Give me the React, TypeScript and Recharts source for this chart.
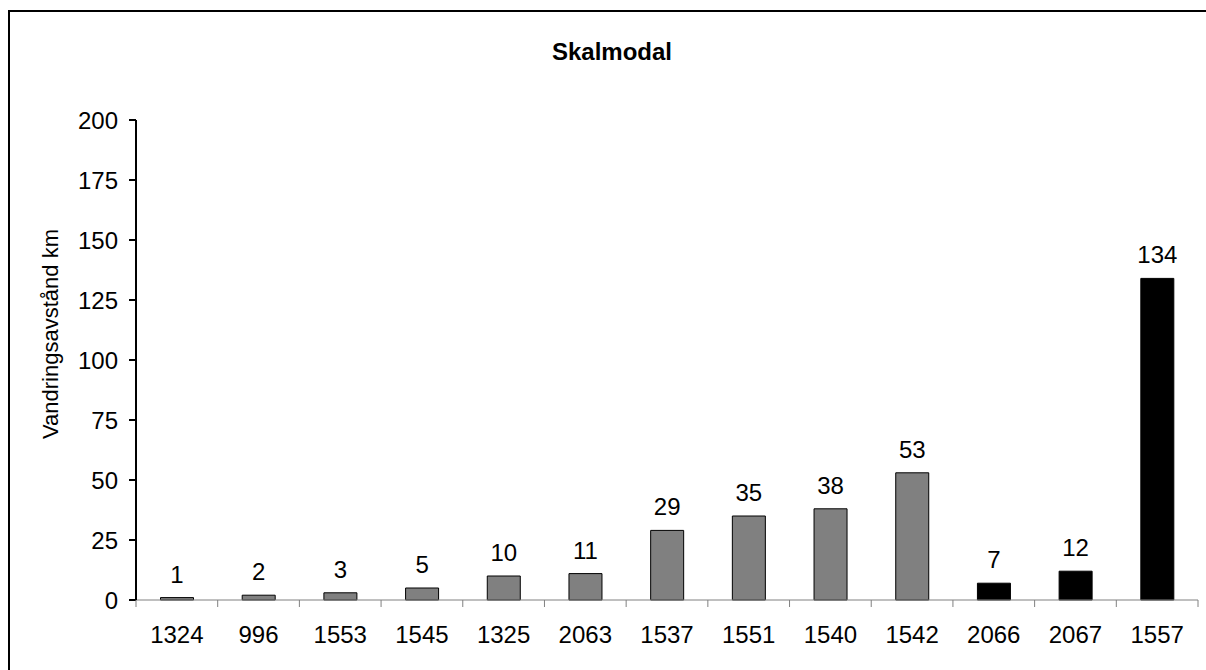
import React from 'react'
import { Bar, BarChart, Cell, LabelList, XAxis, YAxis } from 'recharts'

// ─── Data ──────────────────────────────────────────────────────────────────────
const stations = ['1324', '996', '1553', '1545', '1325', '2063', '1537', '1551', '1540', '1542', '2066', '2067', '1557']
const distances = [1, 2, 3, 5, 10, 11, 29, 35, 38, 53, 7, 12, 134]
const groups = ['a', 'a', 'a', 'a', 'a', 'a', 'a', 'a', 'a', 'a', 'b', 'b', 'b']
const yTicks = [0, 25, 50, 75, 100, 125, 150, 175, 200]

const groupColor: Record<string, string> = { a: '#808080', b: '#000000' }

const data = stations.map((station, i) => ({ station, value: distances[i], group: groups[i] }))

const FONT = '"Liberation Sans", Arial, sans-serif'
const X_TICK = 7
const X_MARGIN = 19

// category label + Excel-style tick marks on the category boundaries
const XTick = (props: any) => {
  const { x, y, payload, index, visibleTicksCount, width } = props
  const half = width / visibleTicksCount / 2
  const axisY = y - X_TICK - X_MARGIN
  const left = payload.coordinate - half
  const right = payload.coordinate + half
  return (
    <g>
      <line x1={left} x2={left} y1={axisY} y2={axisY + X_TICK} stroke="#808080" />
      {index === visibleTicksCount - 1 && (
        <line x1={right} x2={right} y1={axisY} y2={axisY + X_TICK} stroke="#808080" />
      )}
      <text x={x} y={y} dy="0.71em" textAnchor="middle" fontSize={24} fontFamily={FONT} fill="#000">
        {payload.value}
      </text>
    </g>
  )
}

const YLabel = ({ viewBox }: any) => {
  const cx = viewBox.x + 40
  const cy = viewBox.y + viewBox.height / 2 - 26
  return (
    <text
      x={cx}
      y={cy}
      transform={`rotate(-90 ${cx} ${cy})`}
      textAnchor="middle"
      dominantBaseline="central"
      fontSize={22}
      fontFamily={FONT}
      fill="#000"
    >
      Vandringsavstånd km
    </text>
  )
}

export default function App() {
  return (
    <div
      style={{
        position: 'absolute',
        left: 8,
        top: 10,
        width: 1196,
        height: 658,
        borderTop: '2px solid #000',
        borderLeft: '2px solid #000',
        background: '#fff',
        fontFamily: FONT,
      }}
    >
      <div
        style={{
          position: 'absolute',
          left: 0,
          top: 28,
          width: 1204,
          textAlign: 'center',
          fontSize: 24,
          lineHeight: '24px',
          fontWeight: 700,
        }}
      >
        Skalmodal
      </div>
      <BarChart
        width={1196}
        height={656}
        data={data}
        margin={{ top: 108, right: 8, bottom: 0, left: 0 }}
        barCategoryGap="30%"
      >
        <XAxis
          dataKey="station"
          axisLine={{ stroke: '#808080', strokeWidth: 1 }}
          tickLine={false}
          tickSize={X_TICK}
          tickMargin={X_MARGIN}
          height={68}
          interval={0}
          tick={<XTick />}
        />
        <YAxis
          domain={[0, 200]}
          ticks={yTicks}
          width={126}
          tickSize={7}
          tickMargin={11}
          axisLine={{ stroke: '#000', strokeWidth: 2 }}
          tickLine={{ stroke: '#000', strokeWidth: 2 }}
          tick={{ fontSize: 24, fill: '#000', fontFamily: FONT }}
          label={<YLabel />}
        />
        <Bar dataKey="value" stroke="#000" strokeWidth={1} isAnimationActive={false}>
          {data.map((d, i) => (
            <Cell key={i} fill={groupColor[d.group]} />
          ))}
          <LabelList
            dataKey="value"
            position="top"
            offset={15}
            fontSize={24}
            fill="#000"
            fontFamily={FONT}
          />
        </Bar>
      </BarChart>
    </div>
  )
}
